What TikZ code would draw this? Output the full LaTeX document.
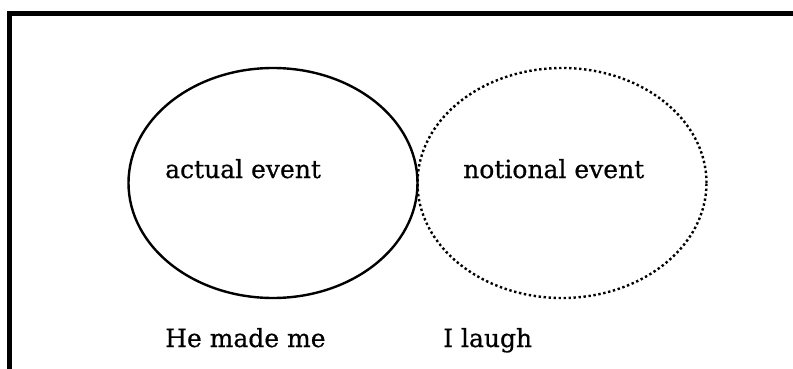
\documentclass[tikz,border=0pt]{standalone}
\usepackage{fontspec}
\setmainfont{DejaVu Serif}
\newfontfamily\lblfont[FakeBold=0.6]{DejaVu Serif}
\usetikzlibrary{shapes.geometric}
\begin{document}
\begin{tikzpicture}[x=1pt,y=-1pt,
  lbl/.style={anchor=base west,inner sep=0pt,font=\lblfont\fontsize{25}{28}\selectfont},
  frameline/.style={line width=5pt},
  evsolid/.style={draw,line width=2.4pt},
  evdotted/.style={draw,line width=2.4pt,dash pattern=on 2.4pt off 2.6pt}]
\useasboundingbox (0,0) rectangle (793,369);
\coordinate (tl) at (7,13.5);
\coordinate (tr) at (793,13.5);
\coordinate (lt) at (9.5,11);
\coordinate (lb) at (9.5,369);
\draw[frameline] (tl) -- (tr);
\draw[frameline] (lt) -- (lb);
\node[evsolid,ellipse,minimum width=289pt,minimum height=230pt,inner sep=0pt] (actual) at (273,183) {};
\node[evdotted,ellipse,minimum width=289pt,minimum height=230pt,inner sep=0pt] (notional) at (562,183) {};
\node[lbl] (a) at (165,178) {actual event};
\node[lbl] (n) at (463,178) {notional event};
\node[lbl] (h) at (165,347) {He made me};
\node[lbl] (i) at (443,347) {I laugh};
\end{tikzpicture}
\end{document}
